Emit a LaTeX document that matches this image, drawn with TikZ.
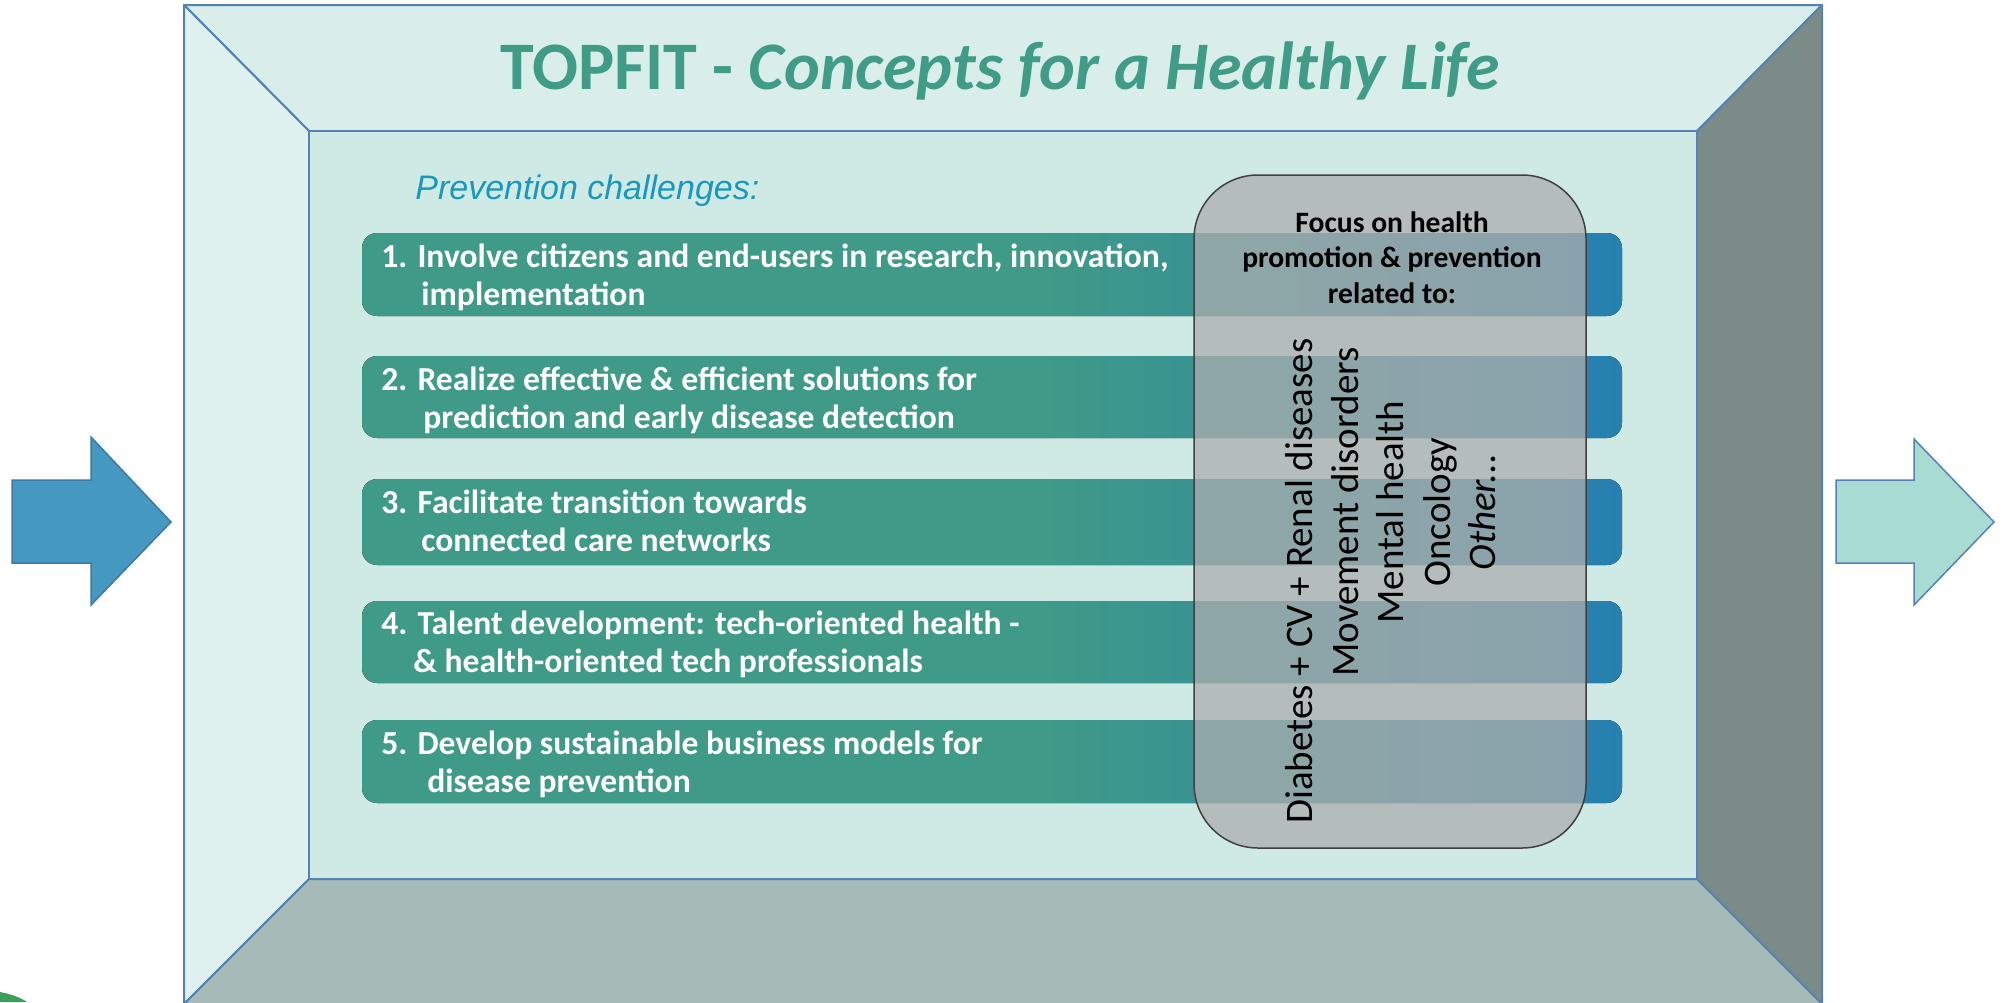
\documentclass[tikz,border=0pt]{standalone}
\usepackage{fontspec}
\setmainfont{Carlito}
\newfontfamily\arialfont{Liberation Sans}
\definecolor{facetop}{RGB}{217,238,234}
\definecolor{faceleft}{RGB}{224,242,239}
\definecolor{faceinner}{RGB}{207,234,229}
\definecolor{faceright}{RGB}{123,139,135}
\definecolor{facebottom}{RGB}{166,187,184}
\definecolor{edgeblue}{RGB}{84,130,180}
\definecolor{titlegreen}{RGB}{64,156,134}
\definecolor{prevblue}{RGB}{26,152,188}
\definecolor{barteal}{RGB}{63,154,135}
\definecolor{barblue}{RGB}{38,128,176}
\definecolor{boxgray}{RGB}{172,174,173}
\definecolor{boxedge}{RGB}{64,64,64}
\definecolor{arrowin}{RGB}{69,153,192}
\definecolor{arrowinedge}{RGB}{60,120,170}
\definecolor{arrowout}{RGB}{168,220,210}
\definecolor{greenbit}{RGB}{60,160,90}
\pgfdeclarehorizontalshading{barshade}{100bp}{color(0bp)=(barteal); color(25bp)=(barteal); color(52bp)=(barteal); color(75bp)=(barblue); color(100bp)=(barblue)}
\tikzset{
  face/.style={draw=edgeblue, line width=1pt, line join=round},
  bar/.style={shading=barshade, rounded corners=7.5pt},
  bartext/.style={anchor=base west, inner sep=0pt, text=white, font=\bfseries\fontsize{16.8pt}{20pt}\selectfont},
  focustext/.style={anchor=base, inner sep=0pt, text=black, font=\bfseries\fontsize{14.8pt}{18pt}\selectfont},
  areatext/.style={anchor=base, inner sep=0pt, rotate=90, text=black, font=\fontsize{19.5pt}{23pt}\selectfont},
}
\begin{document}
\begin{tikzpicture}[x=0.5pt,y=-0.5pt]
\useasboundingbox (0,0) rectangle (2003,1002);
\clip (0,0) rectangle (2003,1002);
% box corners
\coordinate (OTL) at (184,5);
\coordinate (OTR) at (1822,5);
\coordinate (OBR) at (1822,1004);
\coordinate (OBL) at (184,1004);
\coordinate (ITL) at (309,131);
\coordinate (ITR) at (1697,131);
\coordinate (IBR) at (1697,879);
\coordinate (IBL) at (309,879);
% faces
\filldraw[face, fill=facetop] (OTL) -- (OTR) -- (ITR) -- (ITL) -- cycle;
\filldraw[face, fill=faceleft] (OTL) -- (ITL) -- (IBL) -- (OBL) -- cycle;
\filldraw[face, fill=faceright] (OTR) -- (OBR) -- (IBR) -- (ITR) -- cycle;
\filldraw[face, fill=facebottom] (IBL) -- (IBR) -- (OBR) -- (OBL) -- cycle;
\filldraw[face, fill=faceinner] (ITL) rectangle (IBR);
% title
\node[anchor=base west, inner sep=0pt, text=titlegreen, font=\bfseries\fontsize{34pt}{40pt}\selectfont] (title) at (500,89) {TOPFIT - \itshape Concepts for a Healthy Life};
\node[anchor=base west, inner sep=0pt, text=prevblue, font=\arialfont\itshape\fontsize{17pt}{20pt}\selectfont] (prev) at (415,199) {Prevention challenges:};
% bars
\fill[bar] (362,233) rectangle (1622,316);
\fill[bar] (362,356) rectangle (1622,438);
\fill[bar] (362,479) rectangle (1622,565);
\fill[bar] (362,601) rectangle (1622,683);
\fill[bar] (362,720) rectangle (1622,803);
\node[bartext] (b1a) at (381,267) {1. Involve citizens and end-users in research, innovation,};
\node[bartext] (b1b) at (421,305) {implementation};
\node[bartext] (b2a) at (381,390) {2. Realize effective \& efficient solutions for};
\node[bartext] (b2b) at (423,428) {prediction and early disease detection};
\node[bartext] (b3a) at (381,513) {3. Facilitate transition towards};
\node[bartext] (b3b) at (421,551) {connected care networks};
\node[bartext] (b4a) at (381,634) {4. Talent development: tech-oriented health -};
\node[bartext] (b4b) at (413,672) {\& health-oriented tech professionals};
\node[bartext] (b5a) at (381,754) {5. Develop sustainable business models for};
\node[bartext] (b5b) at (427,792) {disease prevention};
% gray box
\filldraw[fill=boxgray, fill opacity=0.75, draw=boxedge, line width=0.75pt, rounded corners=32pt] (1194,175) rectangle (1586,848);
\node[focustext] (f1) at (1392,232) {Focus on health};
\node[focustext] (f2) at (1392,267) {promotion \& prevention};
\node[focustext] (f3) at (1392,303) {related to:};
\node[areatext] (a1) at (1312,581) {Diabetes + CV + Renal diseases};
\node[areatext] (a2) at (1358,512) {Movement disorders};
\node[areatext] (a3) at (1403,512) {Mental health};
\node[areatext] (a4) at (1450,512) {Oncology};
\node[areatext] (a5) at (1495,512) {\itshape Other...};
% arrows
\filldraw[fill=arrowin, draw=arrowinedge, line width=0.75pt, line join=miter]
  (12,480) -- (91,480) -- (91,437) -- (171,522) -- (91,605) -- (91,563) -- (12,563) -- cycle;
\filldraw[fill=arrowout, draw=edgeblue, line width=0.75pt, line join=miter]
  (1836,480) -- (1914,480) -- (1914,439) -- (1994,522) -- (1914,605) -- (1914,563) -- (1836,563) -- cycle;
% green sliver at lower left
\fill[greenbit] (0,992) .. controls (10,994) and (20,997) .. (27,1002) -- (0,1002) -- cycle;
\end{tikzpicture}
\end{document}
